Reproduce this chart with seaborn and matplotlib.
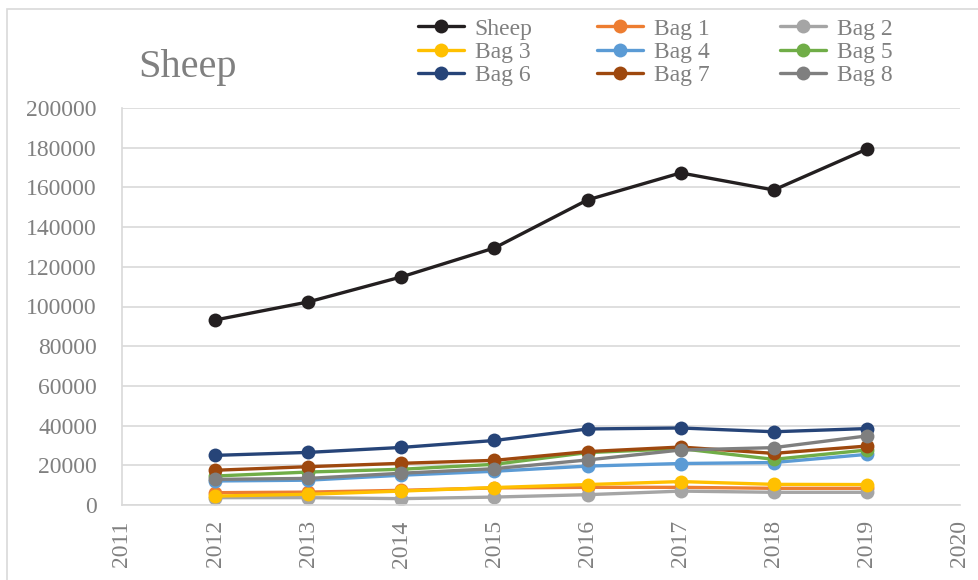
import matplotlib
matplotlib.use("Agg")
import matplotlib.pyplot as plt
from matplotlib.patches import Rectangle
from matplotlib.lines import Line2D
import seaborn as sns
import pandas as pd

years = [2012, 2013, 2014, 2015, 2016, 2017, 2018, 2019]
sheep = [93200, 102300, 114900, 129500, 153700, 167300, 158700, 179300]
bag1 = [6200, 6500, 7400, 8600, 8900, 8900, 8400, 8400]
bag2 = [3700, 3700, 3200, 4000, 5200, 7000, 6400, 6400]
bag3 = [4500, 5400, 7000, 8800, 10300, 11800, 10400, 10300]
bag4 = [12100, 12500, 15000, 17000, 19600, 20900, 21400, 25500]
bag5 = [14600, 16600, 18000, 20500, 26400, 28400, 23000, 27700]
bag6 = [25000, 26500, 29000, 32500, 38300, 38800, 36900, 38500]
bag7 = [17500, 19300, 21000, 22500, 26900, 29200, 26000, 29700]
bag8 = [12900, 13400, 16000, 18300, 22700, 27700, 28900, 34800]

series_names = ["Sheep", "Bag 1", "Bag 2", "Bag 3", "Bag 4",
                "Bag 5", "Bag 6", "Bag 7", "Bag 8"]
series_values = [sheep, bag1, bag2, bag3, bag4, bag5, bag6, bag7, bag8]
colors = ["#231f20", "#ED7D31", "#A5A5A5", "#FFC000", "#5B9BD5",
          "#70AD47", "#264478", "#9E480E", "#7F7F7F"]
x_ticks = list(range(2011, 2021))
y_ticks = list(range(0, 200001, 20000))

rows = []
for name, vals in zip(series_names, series_values):
    for yr, v in zip(years, vals):
        rows.append({"Year": yr, "Value": v, "Series": name})
df = pd.DataFrame(rows)

sns.set_theme(style="white")
plt.rcParams["font.family"] = ["Liberation Serif", "DejaVu Serif"]

W, H = 979, 580
fig = plt.figure(figsize=(W / 100, H / 100), dpi=100)
ax = fig.add_axes([122 / W, 1 - 505 / H, (960 - 122) / W, (505 - 108) / H])

palette = dict(zip(series_names, colors))
sns.lineplot(data=df, x="Year", y="Value", hue="Series", hue_order=series_names,
             palette=palette, marker="o", markersize=10, markeredgewidth=0,
             linewidth=2.4, ax=ax, legend=False)

ax.set_xlim(2011, 2020)
ax.set_ylim(0, 200000)
ax.set_xticks(x_ticks)
ax.set_xticklabels([str(t) for t in x_ticks], rotation=90)
ax.set_yticks(y_ticks)
ax.set_yticklabels([str(t) for t in y_ticks])
ax.set_xlabel("")
ax.set_ylabel("")

tick_color = "#808080"
ax.tick_params(axis="y", length=0, pad=18, labelsize=17, labelcolor=tick_color)
ax.tick_params(axis="x", length=0, pad=11, labelsize=17, labelcolor=tick_color)

ax.grid(axis="y", color="#d9d9d9", linewidth=1.2)
ax.grid(axis="x", visible=False)
ax.set_axisbelow(True)
for side in ["top", "right"]:
    ax.spines[side].set_visible(False)
for side in ["left", "bottom"]:
    ax.spines[side].set_color("#d9d9d9")
    ax.spines[side].set_linewidth(1.2)

# Title
fig.text(138 / W, 1 - 67 / H, "Sheep", fontsize=29, color="#808080",
         ha="left", va="center")

# Legend: three columns, filled row by row
handles = [Line2D([0], [0], color=c, linewidth=2.4, marker="o", markersize=10,
                  markeredgewidth=0) for c in colors]
col_x = [418, 597, 780]
for col in range(3):
    idx = [col, col + 3, col + 6]
    leg = fig.legend([handles[i] for i in idx], [series_names[i] for i in idx],
                     loc="upper left", bbox_to_anchor=(col_x[col] / W, 1 - 18 / H),
                     frameon=False, fontsize=17, handlelength=1.95,
                     handletextpad=0.45, labelspacing=0.08, borderpad=0,
                     borderaxespad=0)
    for t in leg.get_texts():
        t.set_color("#808080")

# Chart area border
fig.patches.append(Rectangle((7 / W, -0.1), 1.2, 1 - 9 / H + 0.1,
                             transform=fig.transFigure, fill=False,
                             edgecolor="#d9d9d9", linewidth=1.2))

fig.savefig("out.png", dpi=100)
